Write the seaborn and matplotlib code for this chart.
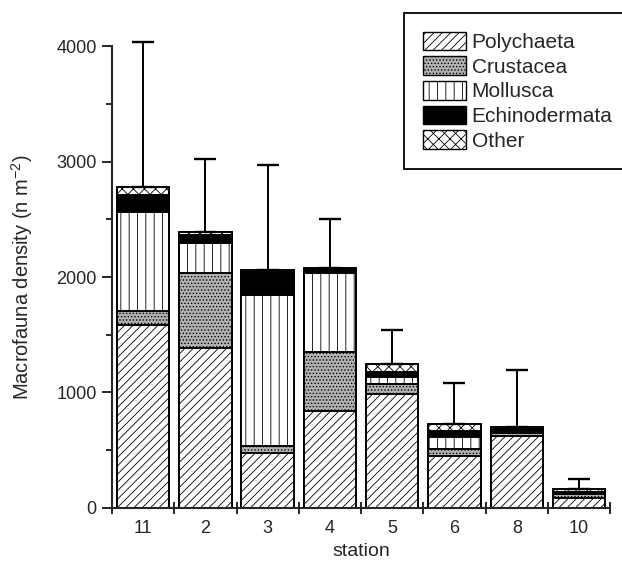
"""Macrofauna density per station, stacked by taxon, with upper error bars."""

import matplotlib

matplotlib.use("Agg")
import matplotlib.patches as mpatches
import matplotlib.pyplot as plt
import numpy as np
import pandas as pd
import seaborn as sns

sns.set_style("ticks")
plt.rcParams["font.family"] = ["Liberation Sans", "DejaVu Sans"]
plt.rcParams["mathtext.default"] = "regular"
plt.rcParams["hatch.linewidth"] = 0.6

# station order as plotted
STATIONS = ["11", "2", "3", "4", "5", "6", "8", "10"]

# densities per taxon (n m-2)
POLYCHAETA = [1586, 1389, 474, 841, 985, 451, 624, 84]
CRUSTACEA = [124, 645, 63, 513, 90, 58, 26, 35]
MOLLUSCA = [855, 260, 1309, 685, 58, 109, 15, 6]
ECHINODERMATA = [147, 72, 202, 29, 48, 52, 20, 16]
OTHER = [67, 28, 14, 9, 64, 55, 14, 24]

# upper error (SD) above the total
ERR_UP = [1260, 625, 905, 425, 297, 356, 497, 84]

TAXA = ["Polychaeta", "Crustacea", "Mollusca", "Echinodermata", "Other"]
STYLES = {
    "Polychaeta": dict(color="white", hatch="////"),
    "Crustacea": dict(color="#b2b2b2", hatch="....."),
    "Mollusca": dict(color="white", hatch="||"),
    "Echinodermata": dict(color="black", hatch=None),
    "Other": dict(color="white", hatch="xxx"),
}

YMAX = 4400


def main() -> None:
    df = pd.DataFrame(
        {
            "station": STATIONS,
            "Polychaeta": POLYCHAETA,
            "Crustacea": CRUSTACEA,
            "Mollusca": MOLLUSCA,
            "Echinodermata": ECHINODERMATA,
            "Other": OTHER,
        }
    )
    cum = df[TAXA].cumsum(axis=1)

    fig = plt.figure(figsize=(6.22, 5.72), dpi=100)
    ax = fig.add_axes([0.18, 0.112, 0.801, 0.888])

    # stacked bars by overplotting cumulative totals, top layer first
    for taxon in TAXA[::-1]:
        st = STYLES[taxon]
        sns.barplot(
            x=df["station"],
            y=cum[taxon],
            order=STATIONS,
            color=st["color"],
            saturation=1,
            hatch=st["hatch"],
            edgecolor="black",
            linewidth=1.4,
            width=0.84,
            errorbar=None,
            ax=ax,
        )

    totals = cum["Other"].to_numpy()
    ax.errorbar(
        np.arange(len(STATIONS)),
        totals,
        yerr=[np.zeros(len(STATIONS)), ERR_UP],
        fmt="none",
        ecolor="black",
        elinewidth=1.4,
        capsize=8,
        capthick=1.7,
        zorder=1,
    )

    ax.set_xlim(-0.5, len(STATIONS) - 0.5)
    ax.set_ylim(0, YMAX)
    ax.set_yticks(np.arange(0, 4001, 1000))
    ax.set_yticks(np.arange(500, 4000, 1000), minor=True)
    ax.set_xticks(np.arange(-0.5, len(STATIONS), 1.0), minor=True)
    ax.tick_params(axis="y", which="major", direction="out", length=7, width=1.4,
                   labelsize=13, pad=4)
    ax.tick_params(axis="y", which="minor", direction="out", length=4.3, width=1.4)
    ax.tick_params(axis="x", which="major", length=0, labelsize=13, pad=9)
    ax.tick_params(axis="x", which="minor", direction="inout", length=9, width=1.4)

    sns.despine(ax=ax)
    ax.spines["left"].set_bounds(0, 4000)
    for side in ("left", "bottom"):
        ax.spines[side].set_linewidth(1.5)

    ax.set_xlabel("station", fontsize=14, labelpad=4)
    ax.set_ylabel("Macrofauna density (n m$^{-2}$)", fontsize=14.5)
    # label centred on the drawn part of the y axis (0-4000)
    ax.yaxis.set_label_coords(-0.155, 2000 / YMAX)

    handles = [
        mpatches.Patch(facecolor=STYLES[t]["color"], hatch=STYLES[t]["hatch"],
                       edgecolor="black", linewidth=1.0, label=t)
        for t in TAXA
    ]
    fig.legend(
        handles=handles,
        loc="upper left",
        bbox_to_anchor=(404 / 622, 1 - 13 / 572),
        fontsize=15,
        frameon=True,
        fancybox=False,
        edgecolor="black",
        framealpha=1,
        borderpad=0.9,
        borderaxespad=0,
        handlelength=2.1,
        handleheight=1.0,
        labelspacing=0.2,
        handletextpad=0.25,
    ).get_frame().set_linewidth(1.3)

    fig.savefig("out.png", dpi=100)
    plt.close(fig)


if __name__ == "__main__":
    main()
